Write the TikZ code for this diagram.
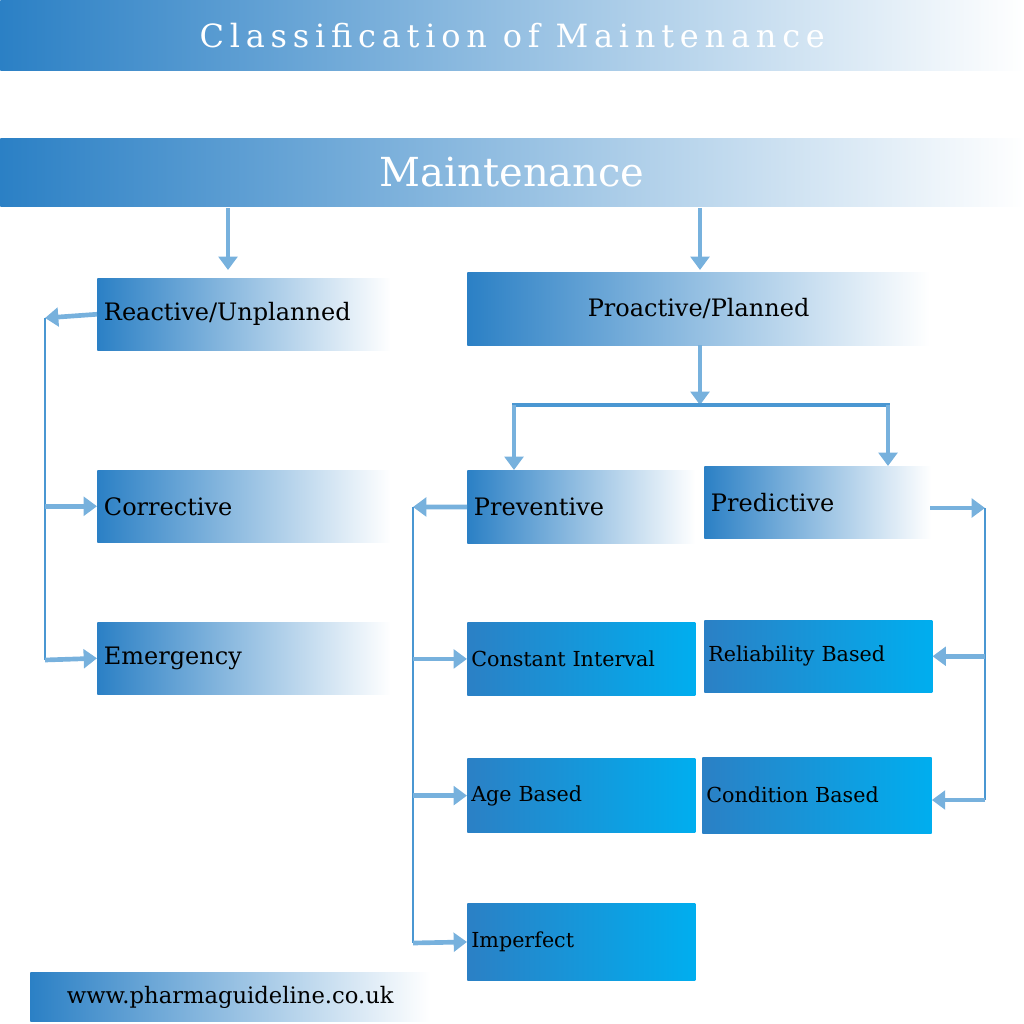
\documentclass[tikz,border=0pt]{standalone}
\usepackage{fontspec}
\setmainfont{DejaVu Serif}
\newfontfamily\spacedfont[LetterSpace=18]{DejaVu Serif}
\usetikzlibrary{positioning,arrows.meta}
\definecolor{MBlue}{HTML}{2B80C5}
\definecolor{MCyan}{HTML}{00AEEF}
\definecolor{MLine}{HTML}{4A97D2}
\begin{document}
\begin{tikzpicture}[x=0.75pt,y=-0.75pt,
    fadebox/.style={anchor=north west, left color=MBlue, right color=white, draw=none,
                    align=left, inner xsep=5pt, font=\fontsize{18}{21}\selectfont},
    solidbox/.style={anchor=north west, left color=MBlue, right color=MCyan, draw=none,
                     align=left, inner xsep=3pt, font=\fontsize{15.5}{18}\selectfont},
    band/.style={anchor=north west, left color=MBlue, right color=white, draw=none,
                 text=white, minimum width=768pt},
    flow/.style={MLine!75, line width=3.5pt, -{Triangle[length=10pt,width=14pt]}},
    rail/.style={MLine, line width=2pt}]
  \useasboundingbox (0,0) rectangle (1024,1024);
  % title bands
  \node[band, minimum height=52.5pt, font=\spacedfont\fontsize{24}{28}\selectfont] (title) at (0,0) {Classification of Maintenance};
  \node[band, minimum height=51pt, font=\fontsize{30}{34}\selectfont] (maint) at (0,138) {Maintenance};
  % first level
  \node[fadebox, minimum width=220pt, minimum height=54pt, text width=210pt] (react) at (97,278) {Reactive/Unplanned};
  \node[fadebox, minimum width=347pt, minimum height=55pt, align=center, text width=337pt] (proact) at (467,272) {Proactive/Planned};
  % reactive branch
  \node[fadebox, minimum width=220pt, minimum height=54pt, text width=210pt] (corr) at (97,470) {Corrective};
  \node[fadebox, minimum width=220pt, minimum height=54pt, text width=210pt] (emerg) at (97,622) {Emergency};
  % proactive branch
  \node[fadebox, minimum width=171pt, minimum height=55pt, text width=161pt] (prev) at (467,470) {Preventive};
  \node[fadebox, minimum width=170pt, minimum height=54pt, text width=160pt] (pred) at (704,466) {Predictive};
  \node[solidbox, minimum width=171pt, minimum height=55pt, text width=165pt] (const) at (467,622) {Constant Interval};
  \node[solidbox, minimum width=171pt, minimum height=56pt, text width=165pt] (age) at (467,758) {Age Based};
  \node[solidbox, minimum width=171pt, minimum height=58pt, text width=165pt] (imperf) at (467,903) {Imperfect};
  \node[solidbox, minimum width=171pt, minimum height=54pt, text width=165pt] (reli) at (704,620) {Reliability Based};
  \node[solidbox, minimum width=172pt, minimum height=57pt, text width=166pt] (cond) at (702,757) {Condition Based};
  % footer
  \node[fadebox, minimum width=300pt, minimum height=37pt, text width=290pt, align=center,
        font=\fontsize{17}{20}\selectfont] (web) at (30,972) {www.pharmaguideline.co.uk};
  % helper points
  \coordinate (rtop) at (228,208);
  \coordinate (ptop) at (700,208);
  \coordinate (pin) at (700,270);
  \coordinate (pout) at (700,345);
  \coordinate (split) at (700,405);
  \coordinate (sleft) at (514,405);
  \coordinate (sright) at (888,405);
  \coordinate (lrail) at (45,318);
  \coordinate (lend) at (45,660);
  \coordinate (prail) at (413,507);
  \coordinate (pend) at (413,943);
  \coordinate (dout) at (930,508);
  \coordinate (drail) at (985,508);
  \coordinate (dend) at (985,800);
  % connectors
  \draw[flow] (rtop) -- (228,270);
  \draw[flow] (ptop) -- (pin);
  \draw[flow] (pout) -- (split);
  \draw[rail, line width=3pt] (512,405) -- (890,405);
  \draw[flow] (sleft) -- (sleft |- prev.north);
  \draw[flow] (sright) -- (sright |- pred.north);
  % reactive side
  \draw[flow] (react.west) -- (lrail);
  \draw[rail] (lrail) -- (lend);
  \draw[flow] (lrail |- corr.west) -- (corr.west);
  \draw[flow] (lend) -- (emerg.west);
  % preventive side
  \draw[flow] (prev.west) -- (prail);
  \draw[rail] (prail) -- (pend);
  \draw[flow] (prail |- const.west) -- (const.west);
  \draw[flow] (prail |- age.west) -- (age.west);
  \draw[flow] (pend) -- (imperf.west);
  % predictive side
  \draw[flow] (dout) -- (drail);
  \draw[rail] (drail) -- (dend);
  \draw[flow] (drail |- reli.east) -- (reli.east);
  \draw[flow] (dend) -- (dend -| cond.east);
\end{tikzpicture}
\end{document}
